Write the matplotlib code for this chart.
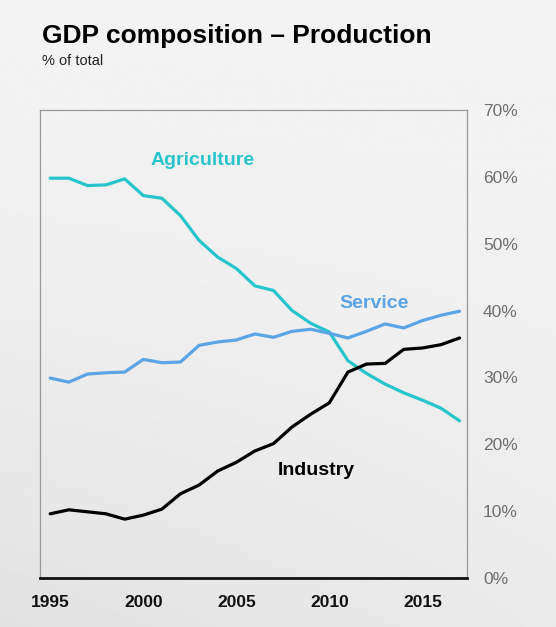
import numpy as np
import matplotlib
matplotlib.use("Agg")
import matplotlib.pyplot as plt

plt.rcParams['font.family'] = ['Liberation Sans', 'DejaVu Sans']

years = list(range(1995, 2018))
agriculture = [59.8, 59.8, 58.7, 58.8, 59.7, 57.2, 56.8, 54.2, 50.5, 48.0, 46.3, 43.7,
               43.0, 40.0, 38.1, 36.8, 32.5, 30.6, 29.0, 27.7, 26.6, 25.4, 23.5]
service = [29.9, 29.3, 30.5, 30.7, 30.8, 32.7, 32.2, 32.3, 34.8, 35.3, 35.6, 36.5,
           36.0, 36.9, 37.2, 36.6, 35.9, 36.9, 38.0, 37.4, 38.5, 39.3, 39.9]
industry = [9.6, 10.2, 9.9, 9.6, 8.8, 9.4, 10.3, 12.6, 13.9, 16.0, 17.3, 19.0,
            20.1, 22.6, 24.5, 26.2, 30.8, 32.0, 32.1, 34.2, 34.4, 34.9, 35.9]
xticks = [1995, 2000, 2005, 2010, 2015]
yticks = [0, 10, 20, 30, 40, 50, 60, 70]

fig = plt.figure(figsize=(5.56, 6.27), dpi=100)

# background gradient
bg = fig.add_axes([0, 0, 1, 1], zorder=0)
ny, nx = 200, 200
yy, xx = np.mgrid[0:1:ny * 1j, 0:1:nx * 1j]
val = 0.955 - 0.07 * yy ** 1.5 * (1 - 0.5 * xx)
bg.imshow(val, cmap='gray', vmin=0, vmax=1, aspect='auto', extent=[0, 1, 0, 1])
bg.axis('off')

ax = fig.add_axes([40 / 556, 1 - 578 / 627, 427 / 556, 468 / 627], zorder=1)
ax.patch.set_alpha(0)

ax.plot(years, agriculture, color='#26c4cb', lw=2.3, solid_joinstyle='round', solid_capstyle='round')
ax.plot(years, service, color='#5ba4e5', lw=2.3, solid_joinstyle='round', solid_capstyle='round')
ax.plot(years, industry, color='#000000', lw=2.3, solid_joinstyle='round', solid_capstyle='round')

ax.set_xlim(1994.45, 2017.4)
ax.set_ylim(0, 70)
ax.yaxis.tick_right()
ax.set_yticks(yticks)
ax.set_yticklabels([f"{v}%" for v in yticks], color='#6e6e6e', fontsize=12.5)
ax.set_xticks(xticks)
ax.set_xticklabels([str(v) for v in xticks], fontsize=12.5, fontweight='bold', color='#111111')
ax.tick_params(axis='both', length=0)
ax.tick_params(axis='y', pad=11.5)
ax.tick_params(axis='x', pad=12)

for s in ['left', 'top', 'right']:
    ax.spines[s].set_color('#999999')
    ax.spines[s].set_linewidth(0.9)
ax.spines['bottom'].set_color('#111111')
ax.spines['bottom'].set_linewidth(2)

ax.text(2003.2, 62.5, 'Agriculture', color='#26c4cb', fontsize=14, fontweight='bold', ha='center', va='center')
ax.text(2012.4, 41.1, 'Service', color='#5ba4e5', fontsize=14, fontweight='bold', ha='center', va='center')
ax.text(2009.3, 16.1, 'Industry', color='#000000', fontsize=14, fontweight='bold', ha='center', va='center')

fig.text(42 / 556, 1 - 36 / 627, 'GDP composition – Production', fontsize=19, fontweight='bold',
         ha='left', va='center', color='#000000')
fig.text(42 / 556, 1 - 61 / 627, '% of total', fontsize=10.5, ha='left', va='center', color='#222222')

fig.savefig('out.png', dpi=100)
